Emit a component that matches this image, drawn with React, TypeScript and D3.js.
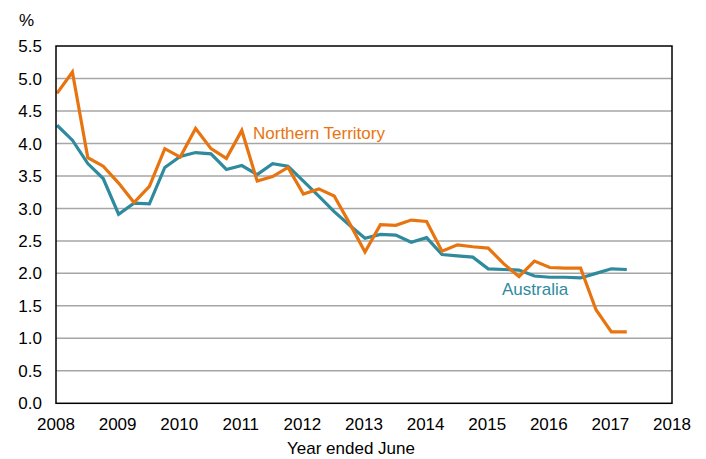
import React from "react";
import * as d3 from "d3";

const startYear = 2008;
const quarterStep = 0.25;

const australia = [
  4.28, 4.05, 3.69, 3.46, 2.91, 3.08, 3.07, 3.63, 3.80, 3.86, 3.84, 3.60, 3.66,
  3.52, 3.69, 3.65, 3.42, 3.19, 2.95, 2.74, 2.54, 2.60, 2.59, 2.48, 2.55, 2.29,
  2.27, 2.25, 2.07, 2.06, 2.05, 1.96, 1.94, 1.94, 1.93, 2.00, 2.07, 2.06,
];

const northernTerritory = [
  4.77, 5.10, 3.78, 3.65, 3.39, 3.09, 3.34, 3.92, 3.79, 4.23, 3.92, 3.77, 4.20,
  3.42, 3.49, 3.63, 3.22, 3.30, 3.19, 2.77, 2.33, 2.75, 2.74, 2.82, 2.80, 2.34,
  2.44, 2.41, 2.39, 2.15, 1.95, 2.19, 2.09, 2.08, 2.08, 1.44, 1.10, 1.10,
];

const yTicks = [0, 0.5, 1, 1.5, 2, 2.5, 3, 3.5, 4, 4.5, 5, 5.5];
const xTicks = [2008, 2009, 2010, 2011, 2012, 2013, 2014, 2015, 2016, 2017, 2018];

const ORANGE = "#e8740f";
const TEAL = "#2f8a9e";
const FONT = "'Liberation Sans', Arial, sans-serif";

export default function App() {
  const W = 706;
  const H = 459;
  const left = 56;
  const right = 672;
  const top = 46;
  const bottom = 403.3;

  const x = d3.scaleLinear().domain([2008, 2018]).range([left, right]);
  const y = d3.scaleLinear().domain([0, 5.5]).range([bottom, top]);

  const line = d3
    .line<number>()
    .x((_, i) => x(startYear + i * quarterStep) + 1)
    .y((d) => y(d));

  return (
    <svg
      width={W}
      height={H}
      style={{ position: "absolute", left: 0, top: 0, background: "#fff" }}
      fontFamily={FONT}
    >
      {yTicks.map((t) =>
        t > 0 && t < 5.5 ? (
          <line
            key={"g" + t}
            x1={left}
            x2={right}
            y1={y(t)}
            y2={y(t)}
            stroke="#a6a6a6"
            strokeWidth={1.5}
          />
        ) : null
      )}
      <path d={line(australia) || ""} fill="none" stroke={TEAL} strokeWidth={3.2} strokeLinejoin="miter" />
      <path d={line(northernTerritory) || ""} fill="none" stroke={ORANGE} strokeWidth={3.2} strokeLinejoin="miter" />
      <rect
        x={left}
        y={top}
        width={right - left}
        height={bottom - top}
        fill="none"
        stroke="#000"
        strokeWidth={1.5}
      />
      {yTicks.map((t) => (
        <text
          key={"y" + t}
          x={42}
          y={y(t)}
          dy="0.36em"
          textAnchor="end"
          fontSize={17}
          fill="#000"
        >
          {t.toFixed(1)}
        </text>
      ))}
      <text x={19} y={26} fontSize={17} fill="#000">
        %
      </text>
      {xTicks.map((t) => (
        <text key={"x" + t} x={x(t)} y={430} textAnchor="middle" fontSize={17} fill="#000">
          {t}
        </text>
      ))}
      <text x={351} y={454} textAnchor="middle" fontSize={17} fill="#000">
        Year ended June
      </text>
      <text x={253} y={139} fontSize={17} fill={ORANGE}>
        Northern Territory
      </text>
      <text x={502} y={295} fontSize={17} fill={TEAL}>
        Australia
      </text>
    </svg>
  );
}
